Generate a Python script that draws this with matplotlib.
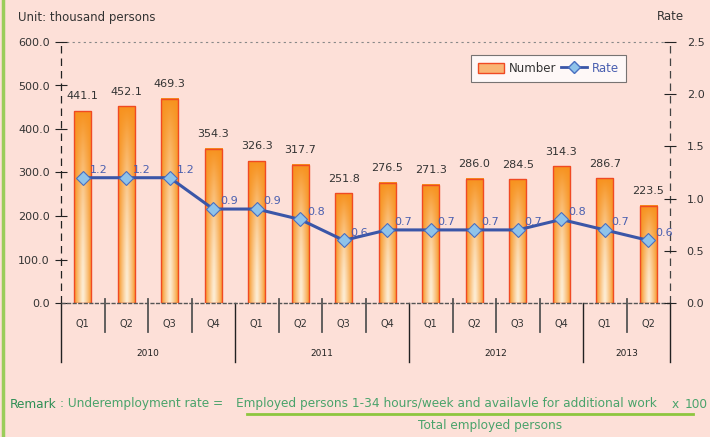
import numpy as np
import matplotlib
matplotlib.use("Agg")
import matplotlib.pyplot as plt
from matplotlib.lines import Line2D
from matplotlib.patches import Patch
import matplotlib.transforms as mtrans

quarters = ["Q1", "Q2", "Q3", "Q4", "Q1", "Q2", "Q3", "Q4", "Q1", "Q2", "Q3", "Q4", "Q1", "Q2"]
years = ["2010", "2011", "2012", "2013"]
year_counts = [4, 4, 4, 2]
numbers = [441.1, 452.1, 469.3, 354.3, 326.3, 317.7, 251.8, 276.5, 271.3, 286.0, 284.5, 314.3, 286.7, 223.5]
rates = [1.2, 1.2, 1.2, 0.9, 0.9, 0.8, 0.6, 0.7, 0.7, 0.7, 0.7, 0.8, 0.7, 0.6]
left_ticks = [0, 100, 200, 300, 400, 500, 600]
right_ticks = [0.0, 0.5, 1.0, 1.5, 2.0, 2.5]

BG = "#fde0d8"
plt.rcParams['font.family'] = ['DejaVu Sans']

fig = plt.figure(figsize=(7.10, 4.37), dpi=100, facecolor=BG)
W, H = 710, 437
ax = fig.add_axes([61 / W, 1 - 303 / H, (670 - 61) / W, (303 - 42) / H])
ax.set_facecolor(BG)
ax.set_xlim(-0.5, len(numbers) - 0.5)
ax.set_ylim(0, 600)

x = np.arange(len(numbers))
bw = 0.4

# gradient image for bars
nx, ny = 40, 100
hx = np.abs(np.linspace(-1, 1, nx))
vy = np.linspace(0, 1, ny)
HX, VY = np.meshgrid(hx, vy)
frac = 1 - (1 - HX ** 1.2) * (1 - VY ** 1.8)
frac = np.clip(frac, 0, 1)
light = np.array([253, 238, 215]) / 255.0
orange = np.array([247, 146, 30]) / 255.0
img = light[None, None, :] * (1 - frac[..., None]) + orange[None, None, :] * frac[..., None]

for xi, v in zip(x, numbers):
    ax.imshow(img, extent=(xi - bw / 2, xi + bw / 2, 0, v), origin='lower',
              aspect='auto', zorder=2, interpolation='bilinear')
ax.bar(x, numbers, width=bw, facecolor='none', edgecolor='#f04a23', linewidth=1.0, zorder=3)
ax.set_xlim(-0.5, len(numbers) - 0.5)
ax.set_ylim(0, 600)

for xi, v in zip(x, numbers):
    ax.annotate(f"{v:.1f}", (xi, v), xytext=(0, 7), textcoords='offset points',
                ha='center', va='bottom', fontsize=8, color='#333333', zorder=5)

# spines
for s in ['left', 'right', 'top', 'bottom']:
    ax.spines[s].set_visible(False)
ax.axhline(600, color='#888888', linestyle=(0, (2, 3)), linewidth=0.8, zorder=1, clip_on=False)
ax.axhline(0, color='#555555', linestyle=(0, (3, 1)), linewidth=1.0, zorder=4, clip_on=False)
ax.axvline(-0.5, color='#222222', linestyle=(0, (6, 4)), linewidth=0.9, zorder=1, clip_on=False)
ax.axvline(len(numbers) - 0.5, color='#444444', linestyle=(0, (6, 4)), linewidth=0.9,
           zorder=1, clip_on=False)

ax.set_yticks(left_ticks)
ax.set_yticklabels([f"{t:.1f}" for t in left_ticks], fontsize=8, color='#333333')
ax.tick_params(axis='y', direction='inout', length=8, width=0.8, color='#222222', pad=4)
ax.set_xticks([])

# category axis
trans = mtrans.blended_transform_factory(ax.transData, ax.transAxes)
bounds = [-0.5]
for c in year_counts:
    bounds.append(bounds[-1] + c)
for i in range(1, len(numbers)):
    b = i - 0.5
    if b in bounds:
        continue
    ax.add_line(Line2D([b, b], [0.015, -0.111], transform=trans, color='#555555',
                       linewidth=1.3, clip_on=False))
for b in bounds:
    ax.add_line(Line2D([b, b], [0.0, -0.226], transform=trans, color='#222222',
                       linewidth=1.0, clip_on=False))
for xi, q in zip(x, quarters):
    ax.text(xi, -0.08, q, transform=trans, ha='center', va='center', fontsize=7, color='#333333')
for i, yl in enumerate(years):
    ax.text((bounds[i] + bounds[i + 1]) / 2, -0.195, yl, transform=trans, ha='center',
            va='center', fontsize=6.5, color='#222222')

# rate axis
ax2 = ax.twinx()
ax2.set_ylim(0, 2.5)
for s in ['left', 'right', 'top', 'bottom']:
    ax2.spines[s].set_visible(False)
ax2.set_yticks(right_ticks)
ax2.set_yticklabels([f"{t:.1f}" for t in right_ticks], fontsize=8, color='#333333')
ax2.tick_params(axis='y', direction='inout', length=8, width=0.8, color='#222222', pad=8)
ax2.plot(x, rates, color='#3a56a8', linewidth=2.2, marker='D', markersize=7,
         markerfacecolor='#8fc3ea', markeredgecolor='#4a6fc0', markeredgewidth=0.8, zorder=5)
for xi, r in zip(x, rates):
    ax2.annotate(f"{r:.1f}", (xi, r), xytext=(5, 2), textcoords='offset points',
                 ha='left', va='bottom', fontsize=8, color='#4a5fb0', zorder=6)

# legend
h1 = Patch(facecolor='#f9b574', edgecolor='#f04a23')
h2 = Line2D([0], [0], color='#3a56a8', linewidth=2, marker='D', markersize=6,
            markerfacecolor='#8fc3ea', markeredgecolor='#4a6fc0')
leg = ax2.legend([h1, h2], ["Number", "Rate"], loc='upper right',
                 bbox_to_anchor=((632 - 61) / 609, (303 - 49) / 261), ncol=2,
                 fontsize=8.5, frameon=True, fancybox=False, edgecolor='#555555',
                 handlelength=2.2, handleheight=1.0, columnspacing=0.4, handletextpad=0.4,
                 borderpad=0.6)
leg.get_frame().set_linewidth(0.8)
leg.get_texts()[1].set_color('#4a5fb0')
leg.get_texts()[0].set_color('#333333')

# titles
fig.text(18 / W, 1 - 17 / H, "Unit: thousand persons", ha='left', va='center', fontsize=8.5, color='#333333')
fig.text(684 / W, 1 - 17 / H, "Rate", ha='right', va='center', fontsize=8.5, color='#333333')

# remark
g1 = '#2e8f55'
g2 = '#4aa36b'
fs = 8.7
fig.text(10 / W, 1 - 404 / H, "Remark", ha='left', va='center', fontsize=fs, color=g1)
fig.text(60 / W, 1 - 404 / H, ": Underemployment rate =", ha='left', va='center', fontsize=fs, color=g2)
fig.text(236 / W, 1 - 404 / H, "Employed persons 1-34 hours/week and availavle for additional work",
         ha='left', va='center', fontsize=fs, color=g2)
fig.text(672 / W, 1 - 404 / H, "x", ha='left', va='center', fontsize=fs, color=g2)
fig.text(708 / W, 1 - 404 / H, "100", ha='right', va='center', fontsize=fs, color=g2)
fig.add_artist(Line2D([247 / W, 693 / W], [1 - 414 / H, 1 - 414 / H], color='#8dc63f',
                      linewidth=2, transform=fig.transFigure))
fig.text(490 / W, 1 - 425 / H, "Total employed persons", ha='center', va='center', fontsize=fs, color=g2)

fig.add_artist(Line2D([2.5 / W, 2.5 / W], [0, 1], color='#9acd5a', linewidth=2.5,
                      transform=fig.transFigure))

fig.savefig("out.png", dpi=100, facecolor=BG)
